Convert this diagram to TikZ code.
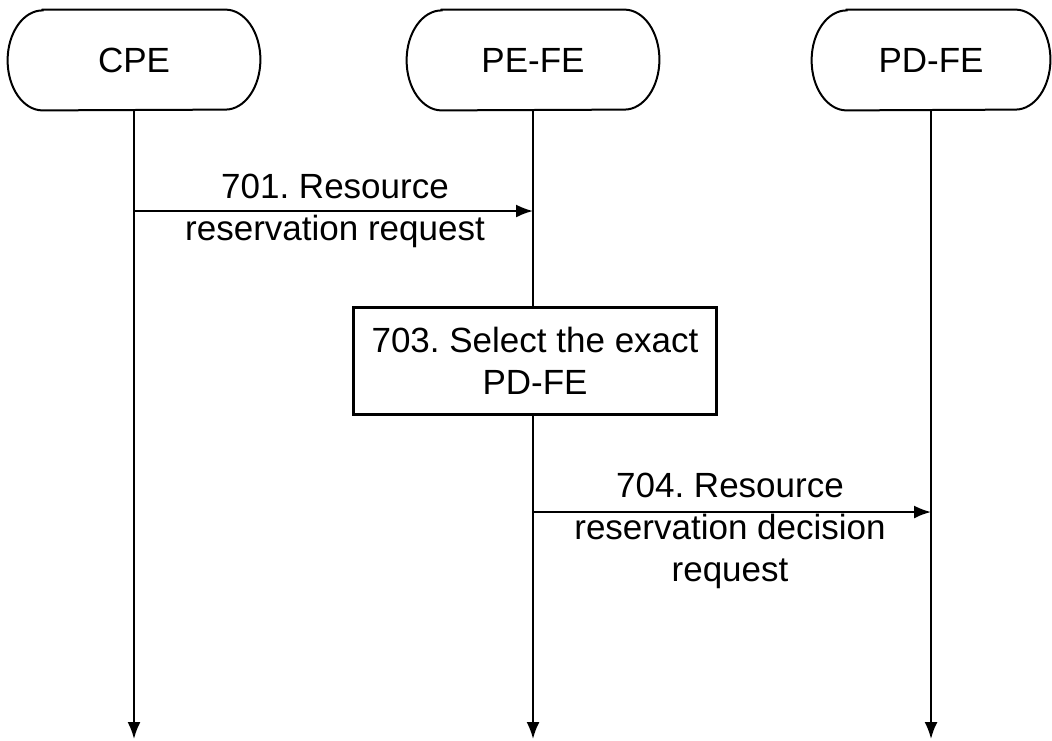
\documentclass[tikz,border=0pt]{standalone}
\usepackage{fontspec}
\setmainfont{Liberation Sans}
\frenchspacing
\usetikzlibrary{arrows.meta}
\tikzset{>={Latex[length=8.5pt,width=6.5pt]}}
\newcommand*{\lblfont}{\fontsize{17.5}{21}\selectfont}
\tikzset{
  entity/.style={minimum width=126pt, minimum height=50pt, inner sep=0pt, font=\lblfont},
  action/.style={draw, line width=1.2pt, minimum width=181.5pt, minimum height=53.5pt,
    inner sep=0pt, align=center, font=\lblfont},
  msg/.style={align=center, inner sep=0pt, font=\lblfont},
  life/.style={line width=1pt},
}

\begin{document}
\begin{tikzpicture}[x=0.5pt, y=-0.5pt]
    \useasboundingbox (0,0) rectangle (1052,740);
    % entities
    \node[entity](cpe) at (134, 60){CPE};
    \node[entity](pefe) at (533, 60){PE-FE};
    \node[entity, minimum width=119pt](pdfe) at (931, 60){PD-FE};
    \foreach \n in {cpe, pefe, pdfe}
        \draw[life]([xshift=17.5pt]\n.north west)--([xshift=-17.5pt]\n.north east)
            arc[start angle=90, end angle=-90, x radius=17.5pt, y radius=25pt]
            --([xshift=17.5pt]\n.south west)
            arc[start angle=270, end angle=90, x radius=17.5pt, y radius=25pt]--cycle;
    \node[action](sel) at (535, 361){703. Select the exact\\PD-FE};
    % lifeline ends
    \coordinate (cpeend) at (134, 739);
    \coordinate (pefeend) at (533, 739);
    \coordinate (pdfeend) at (931, 739);
    \draw[life, ->](cpe.south)--(cpeend);
    \draw[life](pefe.south)--(sel.north -| pefe.south);
    \draw[life, ->](sel.south -| pefe.south)--(pefeend);
    \draw[life, ->](pdfe.south)--(pdfeend);
    % messages
    \coordinate (m1a) at (134, 211);
    \coordinate (m1b) at (533, 211);
    \coordinate (m2a) at (533, 512);
    \coordinate (m2b) at (931, 512);
    \draw[life, ->](m1a)--(m1b);
    \draw[life, ->](m2a)--(m2b);
    \node[msg](l701) at (335, 211){701. Resource\\reservation request};
    \node[msg](l704) at (730, 531){704. Resource\\reservation decision\\request};
\end{tikzpicture}
\end{document}
